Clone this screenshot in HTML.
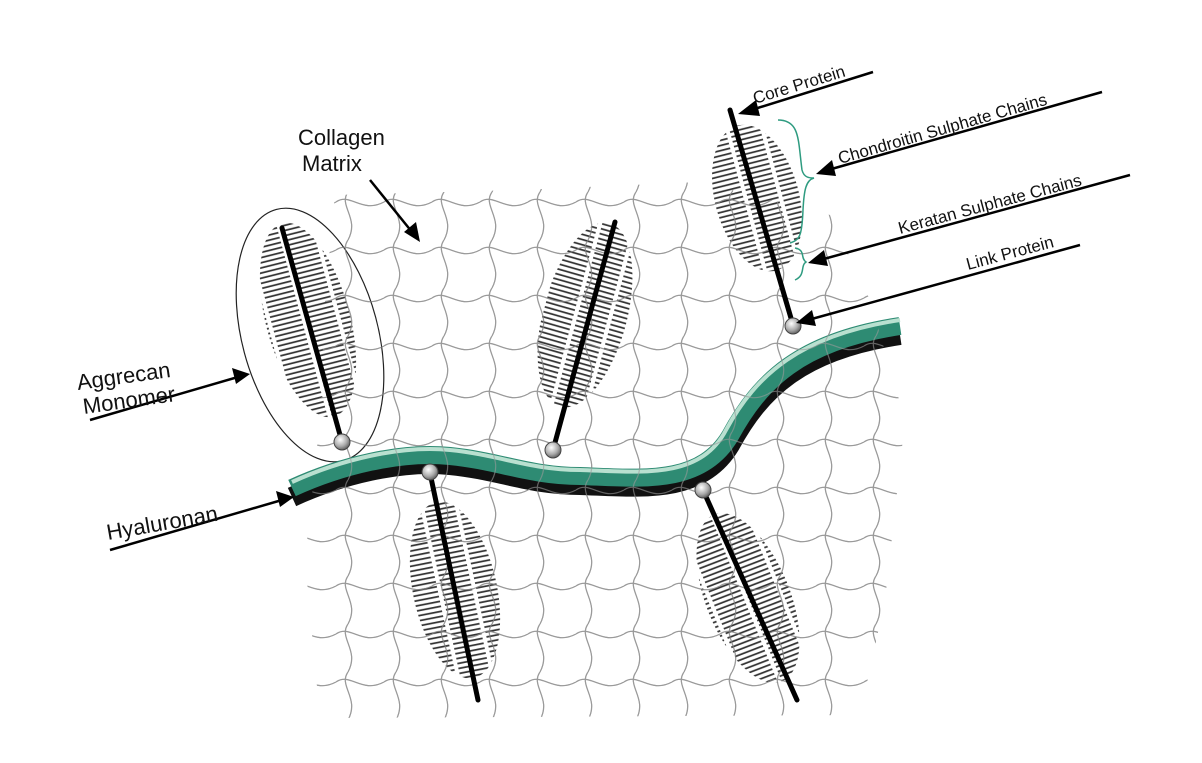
<!DOCTYPE html>
<html><head><meta charset="utf-8"><style>
html,body{margin:0;padding:0;background:#fff;}
svg{display:block;}
text{font-family:"Liberation Sans",Arial,sans-serif;fill:#111;}
</style></head><body>
<svg width="1202" height="763" viewBox="0 0 1202 763" xmlns="http://www.w3.org/2000/svg">
<defs>
<pattern id="mesh" x="0" y="0" width="48" height="48" patternUnits="userSpaceOnUse">
<path d="M0 10 C14 0,26 22,48 10" fill="none" stroke="#9a9a9a" stroke-width="1.2"/>
<path d="M12 0 C2 14,24 26,12 48" fill="none" stroke="#9a9a9a" stroke-width="1.2"/>
</pattern>
<pattern id="hatch" x="0" y="0" width="34" height="5" patternUnits="userSpaceOnUse">
<line x1="0" y1="2.5" x2="30" y2="3" stroke="#333" stroke-width="1.8"/>
</pattern>
<clipPath id="meshclip">
<path d="M335 195 L520 190 L700 182 L830 215 L870 300 L905 420 L885 600 L860 715 L320 718 L305 560 L320 420 L325 300 Z"/>
</clipPath>
<radialGradient id="ball" cx="0.4" cy="0.35" r="0.7">
<stop offset="0" stop-color="#fff"/><stop offset="0.6" stop-color="#aaa"/><stop offset="1" stop-color="#555"/>
</radialGradient>
</defs>

<rect x="0" y="0" width="1202" height="763" fill="#fff"/>
<rect x="0" y="0" width="1202" height="763" fill="url(#mesh)" clip-path="url(#meshclip)"/>

<ellipse cx="308" cy="320" rx="42" ry="100" transform="rotate(-15 308 320)" fill="url(#hatch)"/>
<ellipse cx="585" cy="315" rx="42" ry="95" transform="rotate(15 585 315)" fill="url(#hatch)"/>
<ellipse cx="757" cy="198" rx="42" ry="75" transform="rotate(-15 757 198)" fill="url(#hatch)"/>
<ellipse cx="455" cy="590" rx="42" ry="90" transform="rotate(-12 455 590)" fill="url(#hatch)"/>
<ellipse cx="748" cy="598" rx="42" ry="90" transform="rotate(-22 748 598)" fill="url(#hatch)"/>

<ellipse cx="310" cy="335" rx="68" ry="130" transform="rotate(-15 310 335)" fill="none" stroke="#222" stroke-width="1.2"/>

<path d="M292 492 C340 470,400 455,450 460 C500 465,530 480,580 480 C640 482,700 490,730 440 C760 385,800 345,900 330" fill="none" stroke="#111" stroke-width="20" transform="translate(0,5)"/>
<path d="M292 488 C340 466,400 451,450 456 C500 461,530 476,580 476 C640 478,700 486,730 436 C760 381,800 341,900 326" fill="none" stroke="#2e8b73" stroke-width="18"/>
<path d="M292 482 C340 460,400 445,450 450 C500 455,530 470,580 470 C640 472,700 480,726 430 C756 375,800 335,900 320" fill="none" stroke="#b9e0d0" stroke-width="4"/>
<rect x="0" y="0" width="1202" height="763" fill="url(#mesh)" clip-path="url(#meshclip)" opacity="0.6"/>

<g stroke="#000" stroke-width="5" stroke-linecap="round">
<line x1="282" y1="228" x2="342" y2="442"/>
<line x1="615" y1="222" x2="553" y2="450"/>
<line x1="730" y1="110" x2="793" y2="325"/>
<line x1="430" y1="473" x2="478" y2="700"/>
<line x1="703" y1="490" x2="797" y2="700"/>
</g>
<g fill="url(#ball)" stroke="#444" stroke-width="1">
<circle cx="342" cy="442" r="8"/>
<circle cx="553" cy="450" r="8"/>
<circle cx="793" cy="326" r="8"/>
<circle cx="430" cy="472" r="8"/>
<circle cx="703" cy="490" r="8"/>
</g>

<path d="M778 120 C800 120,798 140,802 170 C804 178,810 178,814 178 C806 180,804 190,803 210 C802 235,800 240,790 243" fill="none" stroke="#2e9b80" stroke-width="1.5"/>
<path d="M795 248 C806 250,800 258,806 262 C800 266,806 275,795 280" fill="none" stroke="#2e9b80" stroke-width="1.5"/>

<g stroke="#000" stroke-width="2.5" fill="none">
<line x1="748" y1="111" x2="873" y2="72"/>
<line x1="828" y1="170" x2="1102" y2="92"/>
<line x1="820" y1="260" x2="1130" y2="175"/>
<line x1="808" y1="320" x2="1080" y2="245"/>
<line x1="370" y1="180" x2="412" y2="232"/>
<line x1="90" y1="420" x2="238" y2="377"/>
<line x1="110" y1="550" x2="282" y2="500"/>
</g>
<g fill="#000">
<polygon points="738,114 756,100 760,116"/>
<polygon points="816,174 832,160 836,176"/>
<polygon points="808,263 824,250 828,266"/>
<polygon points="796,323 812,310 816,326"/>
<polygon points="420,242 404,232 416,222"/>
<polygon points="250,374 232,368 236,384"/>
<polygon points="294,497 276,491 280,507"/>
</g>

<text x="755" y="104" font-size="17" transform="rotate(-17 755 104)">Core Protein</text>
<text x="840" y="164" font-size="17" transform="rotate(-16 840 164)">Chondroitin Sulphate Chains</text>
<text x="900" y="234" font-size="17" transform="rotate(-15 900 234)">Keratan Sulphate Chains</text>
<text x="968" y="270" font-size="17" transform="rotate(-15 968 270)">Link Protein</text>
<text x="298" y="145" font-size="22">Collagen</text>
<text x="302" y="171" font-size="22">Matrix</text>
<text x="78" y="390" font-size="22" transform="rotate(-8 78 390)">Aggrecan</text>
<text x="84" y="414" font-size="22" transform="rotate(-8 84 414)">Monomer</text>
<text x="108" y="540" font-size="22" transform="rotate(-10 108 540)">Hyaluronan</text>
</svg>
</body></html>
